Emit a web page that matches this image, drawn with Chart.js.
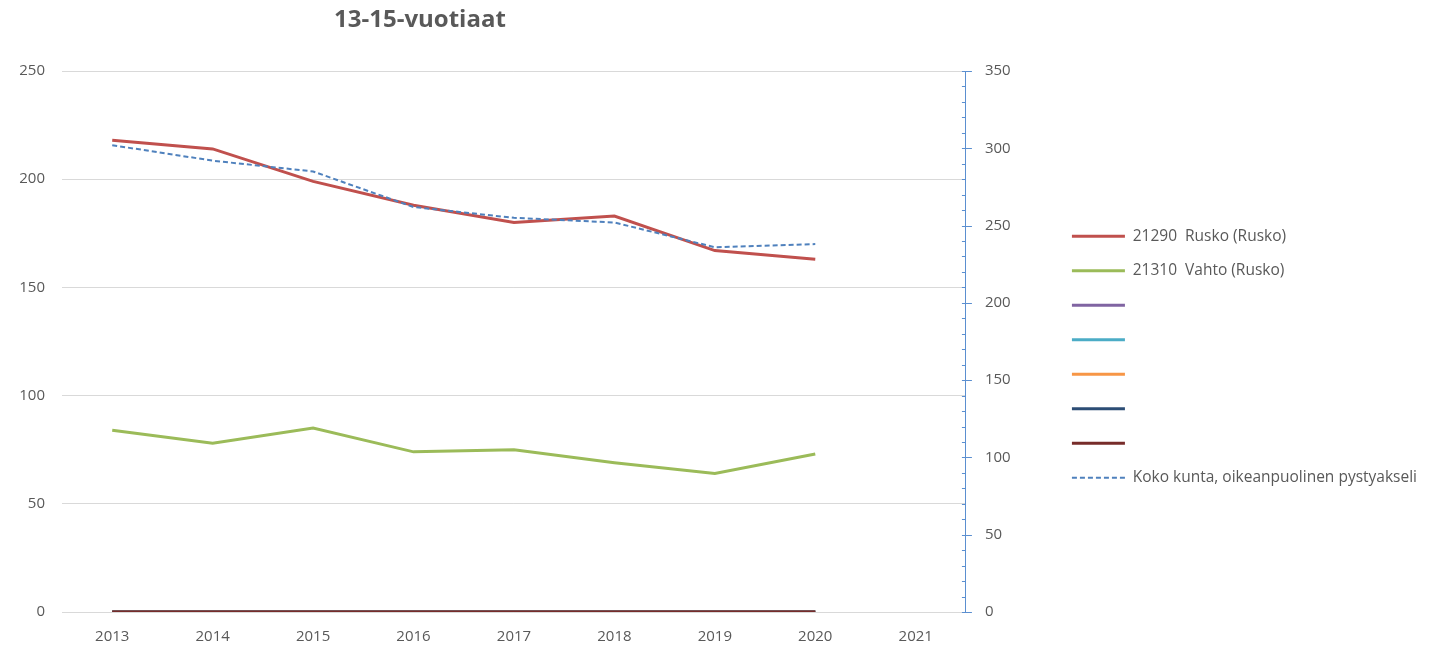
<!DOCTYPE html>
<html>
<head>
<meta charset="utf-8">
<script src="https://cdn.jsdelivr.net/npm/chart.js"></script>
<style>
  html, body { margin: 0; padding: 0; background: #fff; }
  #wrap { width: 1439px; height: 647px; }
</style>
</head>
<body>
<div id="wrap"><canvas id="chart" width="1439" height="647"></canvas></div>
<script>
// data
const years = ['2013', '2014', '2015', '2016', '2017', '2018', '2019', '2020', '2021'];
const rusko = [218, 214, 199, 188, 180, 183, 167, 163, null];
const vahto = [84, 78, 85, 74, 75, 69, 64, 73, null];
const tyhja = [0, 0, 0, 0, 0, 0, 0, 0, null];
const kokoKunta = [302, 292, 285, 262, 255, 252, 236, 238, null];
const leftTicks = [0, 50, 100, 150, 200, 250];
const rightMax = 350;

const txt = '#595959';
const font = { family: 'Open Sans', size: 15 };

function serie(label, data, color, extra) {
    return Object.assign({
        label: label,
        data: data,
        borderColor: color,
        backgroundColor: color,
        borderWidth: 3,
        pointRadius: 0,
        fill: false,
        tension: 0,
        yAxisID: 'y'
    }, extra || {});
}

let datasets = [
    serie('21290  Rusko (Rusko)', rusko, '#C0504D'),
    serie('21310  Vahto (Rusko)', vahto, '#9BBB59'),
    serie('', tyhja, '#8064A2'),
    serie('', tyhja, '#4BACC6'),
    serie('', tyhja, '#F79646'),
    serie('', tyhja, '#2C4D75'),
    serie('', tyhja, '#772C2A'),
    serie('Koko kunta, oikeanpuolinen pystyakseli', kokoKunta, '#4F81BD',
        { borderWidth: 2, borderDash: [5, 3], yAxisID: 'y2' })
];
// later series on top, like the original
datasets.forEach(function (d, i) { d.order = -i; });

const titlePlugin = {
    id: 'otsikko',
    afterDraw(chart) {
        let ctx = chart.ctx;
        let a = chart.chartArea;
        ctx.save();
        ctx.font = 'bold 24px "Open Sans"';
        ctx.fillStyle = txt;
        ctx.textAlign = 'center';
        ctx.textBaseline = 'middle';
        ctx.fillText('13-15-vuotiaat', a.left + (a.right - a.left) * 0.396, 20);
        ctx.restore();
    }
};

const rightTickMarks = {
    id: 'rightTickMarks',
    afterDraw(chart) {
        let s = chart.scales.y2;
        let ctx = chart.ctx;
        let x = s.left;
        ctx.save();
        ctx.strokeStyle = '#5B8FD0';
        ctx.lineWidth = 1;
        s.ticks.forEach(function (t) {
            let y = Math.round(s.getPixelForValue(t.value)) + 0.5;
            ctx.beginPath();
            ctx.moveTo(x - 4, y);
            ctx.lineTo(t.value % 50 === 0 ? x + 6 : x, y);
            ctx.stroke();
        });
        ctx.restore();
    }
};

let ctx = document.getElementById('chart').getContext('2d');
let chart = new Chart(ctx, {
    type: 'line',
    data: { labels: years, datasets: datasets },
    plugins: [titlePlugin, rightTickMarks],
    options: {
        responsive: false,
        animation: false,
        devicePixelRatio: 1,
        layout: { padding: { top: 71, bottom: 4, left: 0, right: 12 } },
        plugins: {
            title: { display: false },
            tooltip: { enabled: false },
            legend: {
                position: 'right',
                maxWidth: 420,
                labels: {
                    usePointStyle: true,
                    pointStyle: 'line',
                    pointStyleWidth: 53,
                    boxWidth: 53,
                    boxHeight: 15,
                    padding: 19,
                    color: txt,
                    font: { family: 'Open Sans', size: 15.5 },
                    sort: function (a, b) { return a.datasetIndex - b.datasetIndex; },
                    generateLabels: function (chart) {
                        let items = Chart.defaults.plugins.legend.labels.generateLabels(chart);
                        items.forEach(function (it) {
                            let d = chart.data.datasets[it.datasetIndex];
                            it.lineDash = d.borderDash || [];
                            it.lineWidth = d.borderWidth;
                            it.strokeStyle = d.borderColor;
                        });
                        return items;
                    }
                }
            }
        },
        scales: {
            x: {
                offset: true,
                afterFit: function (s) { s.height = 31; },
                grid: { display: false, drawTicks: false },
                border: { display: false },
                ticks: { color: txt, font: font, padding: 16, maxRotation: 0, autoSkip: false }
            },
            y: {
                position: 'left',
                min: 0,
                max: leftTicks[leftTicks.length - 1],
                afterBuildTicks: function (s) { s.ticks = leftTicks.map(function (v) { return { value: v }; }); },
                afterFit: function (s) { s.width = 62; },
                grid: { color: '#D9D9D9', drawTicks: false },
                border: { display: false },
                ticks: { color: txt, font: font, padding: 17 }
            },
            y2: {
                position: 'right',
                min: 0,
                max: rightMax,
                afterFit: function (s) { s.width = 87; },
                grid: { display: false, drawTicks: false },
                border: { display: true, color: '#5B8FD0', width: 1 },
                ticks: {
                    stepSize: 10,
                    autoSkip: false,
                    color: txt,
                    font: font,
                    padding: 19,
                    callback: function (v) { return v % 50 === 0 ? v : ''; }
                }
            }
        }
    }
});
</script>
</body>
</html>
